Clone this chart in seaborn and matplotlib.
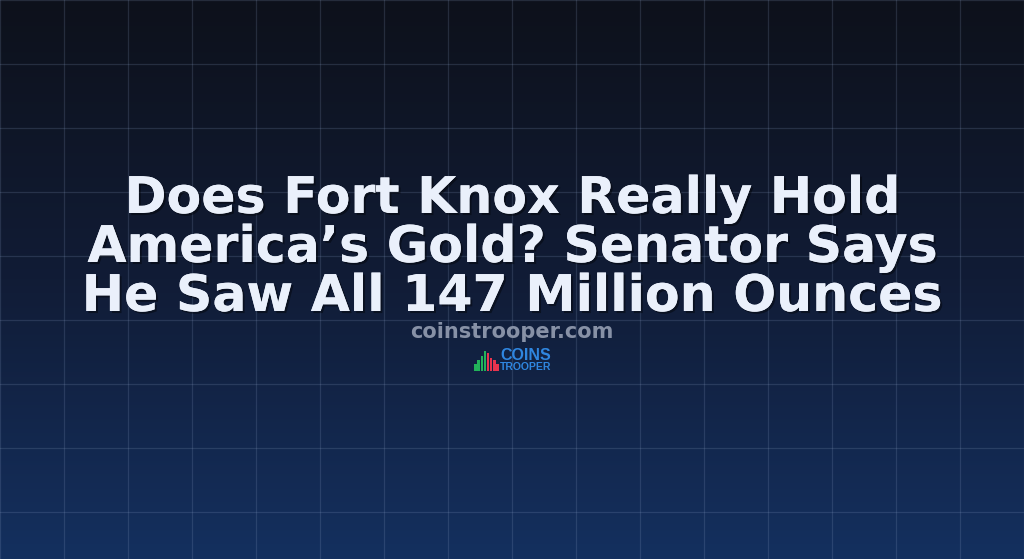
import numpy as np
import pandas as pd
import matplotlib
matplotlib.use('Agg')
import matplotlib.pyplot as plt
import matplotlib.patheffects as pe
from matplotlib.colors import LinearSegmentedColormap
import seaborn as sns

W, H = 1024, 559

title_lines = ['Does Fort Knox Really Hold',
               'America\u2019s Gold? Senator Says',
               'He Saw All 147 Million Ounces']
site_label = 'coinstrooper.com'
logo_top = 'COINS'
logo_bottom = 'TROOPER'

# little candle icon of the logo
logo_bars = ['a', 'b', 'c', 'd', 'e', 'f', 'g', 'h']
logo_heights = [3, 5, 7, 9, 8, 6, 5, 3]
logo_colors = ['#22b35a', '#22b35a', '#22b35a', '#22b35a', '#e8344e', '#e8344e', '#e8344e', '#e8344e']

sns.set_style('white')
plt.rcParams['font.family'] = ['DejaVu Sans']

fig = plt.figure(figsize = (W / 100, H / 100), dpi = 100)
ax = fig.add_axes([0, 0, 1, 1])

grad = LinearSegmentedColormap.from_list('bg', ['#0d111b', '#111c36', '#14305f'])
ax.imshow(np.linspace(0, 1, 256).reshape(-1, 1), cmap = grad, aspect = 'auto',
          extent = [0, W, H, 0], zorder = 0)

for x in range(0, W + 1, 64):
    ax.axvline(x, color = '#8fa3c8', alpha = 0.19, linewidth = 0.9, zorder = 1)
for y in range(0, H + 1, 64):
    ax.axhline(y, color = '#8fa3c8', alpha = 0.19, linewidth = 0.9, zorder = 1)

ax.set_xlim(0, W)
ax.set_ylim(H, 0)
ax.axis('off')

shadow = [pe.withSimplePatchShadow(offset = (1.5, -1.5), shadow_rgbFace = '#000000', alpha = 0.4), pe.Normal()]
for i, line in enumerate(title_lines):
    ax.text(W / 2, 199 + i * 49, line, ha = 'center', va = 'center', fontsize = 36.4,
            fontweight = 'bold', color = '#eaf0fb', path_effects = shadow, zorder = 3)

ax.text(W / 2, 332, site_label, ha = 'center', va = 'center', fontsize = 15,
        fontweight = 'bold', color = '#8791a6', zorder = 3)

ax.text(500, 355, logo_top, ha = 'left', va = 'center', fontsize = 11.5,
        fontweight = 'bold', color = '#2f86e0', family = 'Liberation Sans', zorder = 3)
ax.text(500, 367.5, logo_bottom, ha = 'left', va = 'center', fontsize = 7.5,
        fontweight = 'bold', color = '#2f86e0', family = 'Liberation Sans', zorder = 3)

# icon
iax = fig.add_axes([474 / W, 1 - 371 / H, 25 / W, 21 / H])
sns.barplot(x = logo_bars, y = logo_heights, color = logo_colors[0], width = 0.8,
            saturation = 1, ax = iax)
for bar, c in zip(iax.patches, logo_colors):
    bar.set_facecolor(c)
    bar.set_edgecolor('none')
iax.set_ylim(0, 9.5)
iax.axis('off')
iax.patch.set_alpha(0)

fig.savefig('out.png', dpi = 100)
